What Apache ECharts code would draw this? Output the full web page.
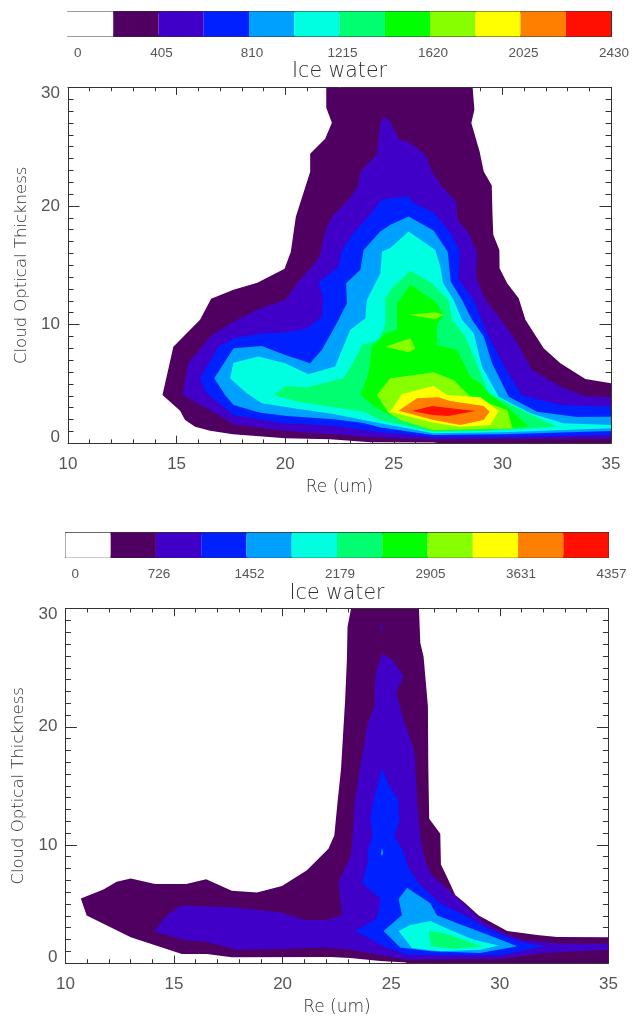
<!DOCTYPE html>
<html><head><meta charset="utf-8">
<style>html,body{margin:0;padding:0;background:#fff}#c{width:636px;height:1017px}</style>
<script src="https://cdn.jsdelivr.net/npm/echarts@6/dist/echarts.min.js"></script>
</head><body><div id="c"></div>
<script>
const levelColors=['#ffffff','#500060','#4000c8','#0020ff','#00a0ff','#00ffe0','#00ff70','#00ff00','#88ff00','#ffff00','#ff8000','#ff1000'];
const barLabelsTop=['0','405','810','1215','1620','2025','2430'];
const barLabelsBottom=['0','726','1452','2179','2905','3631','4357'];
const barTitle='Ice water', xTitle='Re (um)', yTitle='Cloud Optical Thickness';

// Upper panel: filled contour outlines [Re, optical thickness]
const top1=[[21.89,30],[21.89,28.29],[22.15,27.02],[21.84,25.67],[21.15,24.41],[21.15,22.89],[20.49,19.09],[20.26,16.14],[19.97,14.70],[18.72,13.52],[17.62,12.93],[16.59,12.17],[16.08,10.40],[14.85,8.14],[14.35,4.07],[15.16,2.74],[15.39,1.96],[15.85,1.39],[16.54,1.05],[17.60,0.75],[20.0,0.41],[22.07,0.33],[23.92,0.08],[26.82,0.06],[27.14,0],[35,0],[35,5.05],[33.82,5.42],[32.67,6.74],[31.90,8.01],[31.06,10.40],[30.75,12.23],[30.22,13.49],[29.87,14.76],[29.86,16.30],[29.58,17.57],[29.54,19.54],[29.51,21.73],[29.14,22.91],[28.95,24.60],[28.57,27.0],[28.71,28.12],[28.63,30]];
const top2=[[24.53,27.50],[24.38,27.0],[24.22,24.32],[23.49,23.0],[23.33,21.60],[22.84,20.38],[22.15,19.11],[21.87,17.99],[21.57,15.74],[21.30,15.04],[20.61,13.63],[20.0,12.08],[18.85,11.38],[17.62,10.25],[16.62,9.13],[15.54,6.79],[15.27,4.07],[16.39,2.95],[17.62,1.59],[19.92,1.05],[22.07,0.78],[24.38,0.48],[26.82,0.29],[30.04,0.37],[35,0.39],[35,3.87],[33.82,3.98],[32.67,4.77],[31.37,6.18],[30.60,8.71],[29.83,10.68],[29.22,12.08],[28.83,13.77],[28.79,14.34],[28.83,16.16],[28.45,17.71],[27.94,18.84],[27.87,20.38],[27.22,21.65],[26.76,22.91],[26.45,24.32],[25.76,25.31],[25.22,25.65],[24.84,27.13]];
const top3=[[24.84,20.67],[24.38,20.46],[23.99,19.40],[23.07,17.57],[22.61,16.30],[22.46,14.89],[21.53,13.54],[21.75,12.23],[21.69,10.68],[21.0,9.70],[20.0,9.33],[18.93,9.27],[17.62,8.85],[16.93,8.14],[16.08,5.48],[16.31,4.35],[17.62,2.38],[19.92,1.68],[22.21,1.48],[24.38,0.95],[26.82,0.53],[30.04,0.53],[35,0.69],[35,3.08],[32.67,3.22],[30.87,4.07],[30.0,6.74],[29.22,9.55],[28.68,12.08],[27.99,13.77],[28.03,16.16],[27.68,17.57],[26.83,19.45],[25.91,20.25],[25.68,20.75]];
const top4=[[24.84,18.41],[24.38,17.85],[23.61,16.30],[23.46,14.62],[22.80,13.49],[22.84,11.81],[22.46,10.40],[21.69,7.87],[21.15,6.74],[20.0,7.44],[18.93,8.20],[17.62,8.01],[16.73,5.48],[17.23,4.07],[17.62,3.22],[18.85,2.57],[20.08,2.30],[22.23,2.02],[23.61,1.70],[24.38,1.32],[26.82,0.69],[30.04,0.75],[35,1.03],[35,2.24],[33.44,2.21],[31.6,2.66],[30.29,3.92],[29.52,6.74],[29.14,8.99],[28.60,10.40],[28.14,12.08],[27.62,13.63],[27.48,16.16],[26.83,17.93],[25.68,19.11]];
const top5=[[24.84,16.45],[24.46,16.16],[24.38,14.34],[23.76,12.08],[23.69,10.54],[22.99,9.55],[22.30,6.46],[21.07,5.81],[20.0,6.74],[18.77,7.30],[17.62,6.79],[17.46,5.48],[18.23,4.21],[18.93,3.37],[20.38,2.95],[22.23,2.46],[23.61,1.96],[24.38,1.68],[26.82,0.84],[30.04,0.92],[35,1.26],[35,1.54],[32.82,1.68],[31.29,2.52],[29.83,3.92],[29.06,6.46],[28.68,9.27],[28.14,10.40],[27.75,12.08],[27.27,13.49],[27.14,14.89],[26.91,16.30],[25.68,17.85]];
const top6=[[25.76,14.53],[24.93,13.10],[24.61,12.23],[24.61,9.97],[24.28,8.71],[23.55,8.29],[23.15,6.88],[22.69,5.48],[21.0,4.72],[20.0,4.83],[19.49,4.07],[20.61,3.50],[22.23,3.03],[23.61,2.66],[24.38,1.96],[26.82,0.97],[29.14,1.03],[32.52,1.39],[31.06,2.63],[29.37,4.24],[28.75,7.02],[28.29,8.99],[27.68,10.40],[27.52,12.08],[26.76,13.49]];
const top7=[[25.76,13.35],[25.15,11.81],[25.15,9.55],[24.61,9.27],[23.99,8.14],[23.84,5.90],[23.46,4.07],[24.22,2.95],[24.84,2.38],[26.82,1.05],[29.14,1.16],[31.21,1.39],[30.29,2.95],[29.45,4.07],[28.98,5.05],[28.52,5.61],[28.29,6.46],[27.91,7.87],[26.99,8.29],[26.99,9.97],[27.29,10.82],[26.91,11.94]];
const top8a=[[25.68,10.82],[26.91,11.05],[27.29,10.82],[26.91,10.46]];
const top8b=[[24.61,8.14],[25.76,8.85],[25.99,8.01],[25.68,7.67]];
const top8c=[[24.22,4.07],[24.84,5.48],[26.83,5.98],[27.75,5.33],[28.52,3.92],[30.22,2.80],[30.47,1.24],[26.82,1.09],[25.30,1.96],[24.75,2.57]];
const top9=[[24.84,2.66],[25.38,4.15],[26.83,4.83],[27.45,4.07],[28.98,3.87],[29.83,2.74],[29.45,1.54],[28.06,1.39],[26.83,1.73]];
const top10=[[25.22,2.74],[26.07,3.79],[27.06,3.87],[27.6,3.56],[29.14,3.14],[29.41,2.66],[29.14,1.96],[28.06,1.54],[26.83,1.96]];
const top11=[[25.84,2.72],[26.76,3.14],[28.75,2.72],[27.52,2.30],[26.76,2.38]];

// Lower panel
const low1=[[23.15,30],[22.99,28.48],[22.96,25.68],[22.88,22.31],[22.69,16.42],[22.53,13.64],[22.38,10.80],[22.11,9.68],[21.12,7.86],[19.97,6.51],[18.82,5.98],[17.66,6.12],[16.48,7.10],[15.56,6.68],[14.13,6.68],[13.01,7.16],[12.36,6.88],[11.75,6.23],[10.71,5.47],[10.98,4.02],[13.01,2.19],[15.36,0.76],[16.51,0.76],[17.66,0.48],[22.19,0.51],[23.11,0.42],[24.50,0.17],[25.69,0.04],[25.69,0],[35,0],[35,2.19],[32.64,2.21],[31.72,2.38],[30.34,2.72],[29.03,4.02],[28.41,5.05],[27.95,5.75],[27.60,7.16],[27.29,8.34],[27.26,10.95],[26.75,12.21],[26.71,16.42],[26.69,21.75],[26.49,25.96],[26.34,27.09],[26.28,30]];
const low2=[[24.58,26.19],[24.27,24.42],[24.23,21.75],[23.91,20.21],[23.65,17.54],[23.34,13.89],[23.15,9.12],[22.58,6.88],[22.73,4.07],[22.04,3.65],[21.04,3.65],[19.89,4.29],[17.74,4.69],[15.36,4.86],[14.67,4.07],[14.08,2.67],[15.43,1.96],[16.51,1.77],[17.89,1.12],[20.20,1.20],[21.88,1.32],[23.11,1.12],[25.73,0.28],[30.03,0.36],[32.01,0.84],[35,1.12],[35,1.60],[32.64,1.66],[31.03,1.96],[30.18,2.53],[29.10,3.65],[28.03,5.53],[26.85,7.49],[26.57,8.67],[26.39,9.96],[26.19,13.62],[26.08,17.83],[25.52,20.91],[25.23,22.88],[25.57,24.33],[25.04,25.68]];
const low2speck=[[24.54,28.88],[24.61,28.21],[24.50,28.21]];
const low3=[[24.58,16.48],[24.19,13.89],[24.04,12.21],[24.14,10.80],[23.91,9.41],[23.93,8.56],[23.65,6.79],[24.50,5.47],[24.34,3.79],[23.34,2.72],[24.65,1.41],[25.73,0.70],[27.72,0.65],[30.03,0.65],[32.02,1.41],[30.80,1.85],[29.41,2.95],[28.34,4.07],[27.26,5.05],[26.26,6.74],[25.80,8.0],[25.57,9.41],[25.14,10.80],[25.37,11.93],[25.34,13.75],[24.93,14.88]];
const low4=[[25.73,6.37],[25.34,5.41],[25.50,4.07],[24.65,2.72],[25.42,1.32],[26.80,0.99],[29.10,0.84],[30.80,1.41],[29.87,2.10],[27.11,4.02],[26.80,5.05]];
const low4speck=[[24.52,9.18],[24.57,9.73],[24.63,9.35],[24.59,9.09]];
const low5=[[25.34,2.72],[25.88,3.22],[26.80,3.56],[27.72,2.80],[28.80,1.96],[29.95,1.49],[29.10,1.12],[27.26,0.99],[25.96,1.26]];
const low6=[[26.72,2.72],[27.41,2.53],[29.18,1.41],[27.87,1.20],[26.83,1.41]];

const topPolys=[[1,top1],[2,top2],[3,top3],[4,top4],[5,top5],[6,top6],[7,top7],[8,top8a],[8,top8b],[8,top8c],[9,top9],[10,top10],[11,top11]];
const lowPolys=[[1,low1],[2,low2],[2,low2speck],[3,low3],[4,low4],[4,low4speck],[5,low5],[6,low6]];

const NUMFONT='Liberation Sans', WORDFONT='DejaVu Sans', INK='#555555', WORDINK='#2e2e2e', LINE='#333';
const chart=echarts.init(document.getElementById('c'),null,{renderer:'canvas'});

function contourSeries(polys,xi,yi){
  return {type:'custom',xAxisIndex:xi,yAxisIndex:yi,silent:true,clip:true,z:2,
    data:polys.map((p,i)=>[p[1][0][0],p[1][0][1],i]),
    renderItem:(params,api)=>{
      const p=polys[params.dataIndex];
      return {type:'polygon',shape:{points:p[1].map(q=>api.coord(q))},style:{fill:levelColors[p[0]],stroke:null}};
    }};
}
function barSeries(xi,yi){
  return {type:'custom',xAxisIndex:xi,yAxisIndex:yi,silent:true,z:2,
    data:levelColors.map((c,i)=>[i,0,i+1,1]),
    renderItem:(params,api)=>{
      const a=api.coord([api.value(0),api.value(1)]),b=api.coord([api.value(2),api.value(3)]);
      return {type:'rect',shape:{x:a[0],y:b[1],width:b[0]-a[0],height:a[1]-b[1]},style:{fill:levelColors[params.dataIndex]}};
    }};
}
const line={show:true,onZero:false,lineStyle:{color:LINE,width:1}};
const numStyle={color:INK,fontFamily:NUMFONT};
const wordStyle={color:WORDINK,fontFamily:WORDFONT,fontWeight:200};
function plotAxes(grid){
  const tickX={show:true,inside:true,length:7.5,lineStyle:{color:LINE}};
  const minorX={show:true,splitNumber:5,length:3.8,lineStyle:{color:LINE}};
  const tickY={show:true,inside:true,length:11.5,lineStyle:{color:LINE}};
  const minorY={show:true,splitNumber:10,length:5.5,lineStyle:{color:LINE}};
  const x={type:'value',gridIndex:grid,min:10,max:35,interval:5,axisLine:line,axisTick:tickX,minorTick:minorX,splitLine:{show:false},minorSplitLine:{show:false}};
  const y={type:'value',gridIndex:grid,min:0,max:30,interval:10,axisLine:line,axisTick:tickY,minorTick:minorY,splitLine:{show:false},minorSplitLine:{show:false}};
  return {
    x:[Object.assign({},x,{position:'bottom',name:xTitle,nameLocation:'middle',nameGap:36,nameTextStyle:Object.assign({fontSize:17},wordStyle),
        axisLabel:Object.assign({fontSize:17,margin:13},numStyle)}),
       Object.assign({},x,{position:'top',axisLabel:{show:false}})],
    y:[Object.assign({},y,{position:'left',name:yTitle,nameLocation:'middle',nameGap:35,nameTextStyle:Object.assign({fontSize:16.5},wordStyle),
        axisLabel:Object.assign({fontSize:17,margin:8,lineHeight:12,verticalAlignMinLabel:'bottom',verticalAlignMaxLabel:'top'},numStyle)}),
       Object.assign({},y,{position:'right',axisLabel:{show:false}})]
  };
}
function barAxes(grid,labels){
  const tick={show:true,inside:true,length:2,lineStyle:{color:LINE}};
  const minor={show:true,splitNumber:2,length:2,lineStyle:{color:LINE}};
  const x={type:'value',gridIndex:grid,min:0,max:12,interval:2,axisLine:line,axisTick:tick,minorTick:minor,splitLine:{show:false},minorSplitLine:{show:false}};
  const y={type:'value',gridIndex:grid,min:0,max:1,axisLine:line,axisTick:{show:false},axisLabel:{show:false},splitLine:{show:false}};
  return {
    x:[Object.assign({},x,{position:'bottom',name:barTitle,nameLocation:'middle',nameGap:25,nameTextStyle:Object.assign({fontSize:20.5},wordStyle),
       axisLabel:Object.assign({fontSize:13.5,margin:10,padding:[0,0,0,6],alignMinLabel:'left',formatter:v=>labels[Math.round(v/2)]},numStyle)}),
       Object.assign({},x,{position:'top',axisLabel:{show:false}})],
    y:[Object.assign({},y,{position:'left'}),Object.assign({},y,{position:'right'})]
  };
}
const A=barAxes(0,barLabelsTop),B=plotAxes(1),C=barAxes(2,barLabelsBottom),D=plotAxes(3);
chart.setOption({
  animation:false,backgroundColor:'#fff',
  grid:[
    {left:68,top:11.5,width:543,height:25},
    {left:68,top:87.4,width:543,height:355.8},
    {left:65.4,top:532.7,width:543.2,height:25},
    {left:65.4,top:608.7,width:543,height:356.3}
  ],
  xAxis:[...A.x,...B.x,...C.x,...D.x],
  yAxis:[...A.y,...B.y,...C.y,...D.y],
  series:[barSeries(0,0),contourSeries(topPolys,2,2),barSeries(4,4),contourSeries(lowPolys,6,6)]
});
</script></body></html>
